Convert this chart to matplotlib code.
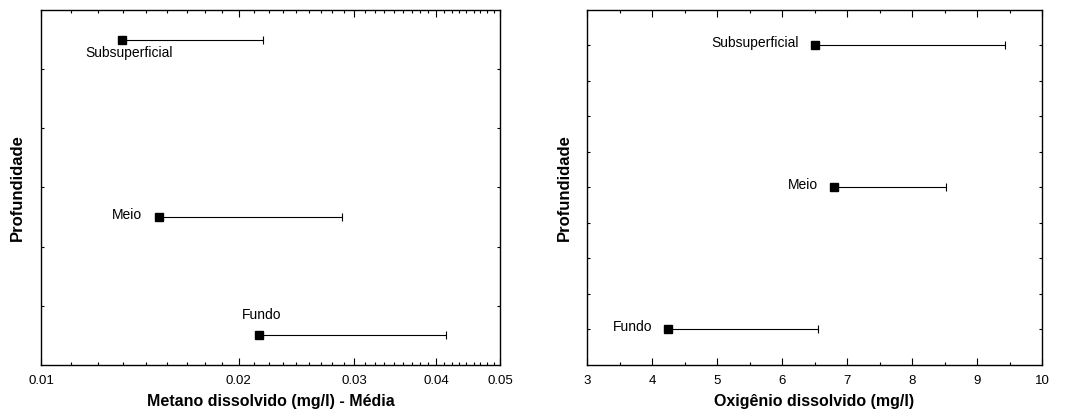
import matplotlib
matplotlib.use('Agg')
import matplotlib.pyplot as plt
from matplotlib.ticker import FixedLocator, NullFormatter

plt.rcParams['font.family'] = ['Liberation Sans', 'DejaVu Sans']

# Metano dissolvido (mg/l) - média e erro (só para cima)
camadas = ['Subsuperficial', 'Meio', 'Fundo']
metano_pos = [5.5, 2.5, 0.5]
metano_media = [0.0133, 0.0151, 0.0215]
metano_erro = [0.0085, 0.0136, 0.0198]

# Oxigênio dissolvido (mg/l)
oxig_pos = [9, 5, 1]
oxig_media = [6.50, 6.80, 4.245]
oxig_erro = [2.93, 1.73, 2.31]

x_ticks_metano = [0.01, 0.02, 0.03, 0.04, 0.05]
x_labels_metano = ['0.01', '0.02', '0.03', '0.04', '0.05']

fig = plt.figure(figsize=(10.66, 4.19), dpi=100)
ax1 = fig.add_axes([0.0385, 0.129, 0.4306, 0.8473])
ax2 = fig.add_axes([0.5507, 0.129, 0.4268, 0.8473])


def desenha(ax, x, y, err):
    ax.errorbar(x, y, xerr=[[0] * len(err), err], fmt='s', color='black',
                ms=5.5, ecolor='black', elinewidth=0.8, capsize=2.6, capthick=0.8)


def estilo(ax):
    for s in ax.spines.values():
        s.set_linewidth(1.0)
    ax.tick_params(which='both', direction='in', top=True, right=True,
                   labelsize=9.5, pad=7)
    ax.tick_params(axis='x', which='major', length=5, width=0.8)
    ax.tick_params(axis='x', which='minor', length=2.2, width=0.8)
    ax.tick_params(axis='y', which='major', length=2.2, width=0.8)
    ax.set_yticklabels([])


# Gráfico 1 - metano (escala log)
desenha(ax1, metano_media, metano_pos, metano_erro)
ax1.set_xscale('log')
ax1.set_xlim(0.01, 0.05)
ax1.set_ylim(0, 6)
ax1.xaxis.set_major_locator(FixedLocator(x_ticks_metano))
ax1.set_xticklabels(x_labels_metano)
menores = []
for a, b in zip(x_ticks_metano[:-1], x_ticks_metano[1:]):
    passo = (b - a) / 9
    menores += [a + k * passo for k in range(1, 9)]
ax1.xaxis.set_minor_locator(FixedLocator(menores))
ax1.xaxis.set_minor_formatter(NullFormatter())
ax1.set_yticks([1, 2, 3, 4, 5])
estilo(ax1)
ax1.set_xlabel('Metano dissolvido (mg/l) - Média', fontsize=11.5,
               fontweight='bold', labelpad=5.5)
ax1.set_ylabel('Profundidade', fontsize=12, fontweight='bold', labelpad=4.5)

ax1.annotate(camadas[0], (metano_media[0], metano_pos[0]), xytext=(7, -13),
             textcoords='offset pixels', ha='center', va='center', fontsize=10)
ax1.annotate(camadas[1], (metano_media[1], metano_pos[1]), xytext=(-17, 2),
             textcoords='offset pixels', ha='right', va='center', fontsize=10)
ax1.annotate(camadas[2], (metano_media[2], metano_pos[2]), xytext=(2, 20),
             textcoords='offset pixels', ha='center', va='center', fontsize=10)

# Gráfico 2 - oxigênio
desenha(ax2, oxig_media, oxig_pos, oxig_erro)
ax2.set_xlim(3, 10)
ax2.set_ylim(0, 10)
ax2.set_xticks(range(3, 11))
ax2.set_xticks([3.5 + i for i in range(7)], minor=True)
ax2.set_yticks(range(1, 10))
estilo(ax2)
ax2.set_xlabel('Oxigênio dissolvido (mg/l)', fontsize=11.5,
               fontweight='bold', labelpad=5.5)
ax2.set_ylabel('Profundidade', fontsize=12, fontweight='bold', labelpad=4)

for nome, xm, yp in zip(camadas, oxig_media, oxig_pos):
    ax2.annotate(nome, (xm, yp), xytext=(-16, 2), textcoords='offset pixels',
                 ha='right', va='center', fontsize=10)

fig.savefig('out.png', dpi=100)
